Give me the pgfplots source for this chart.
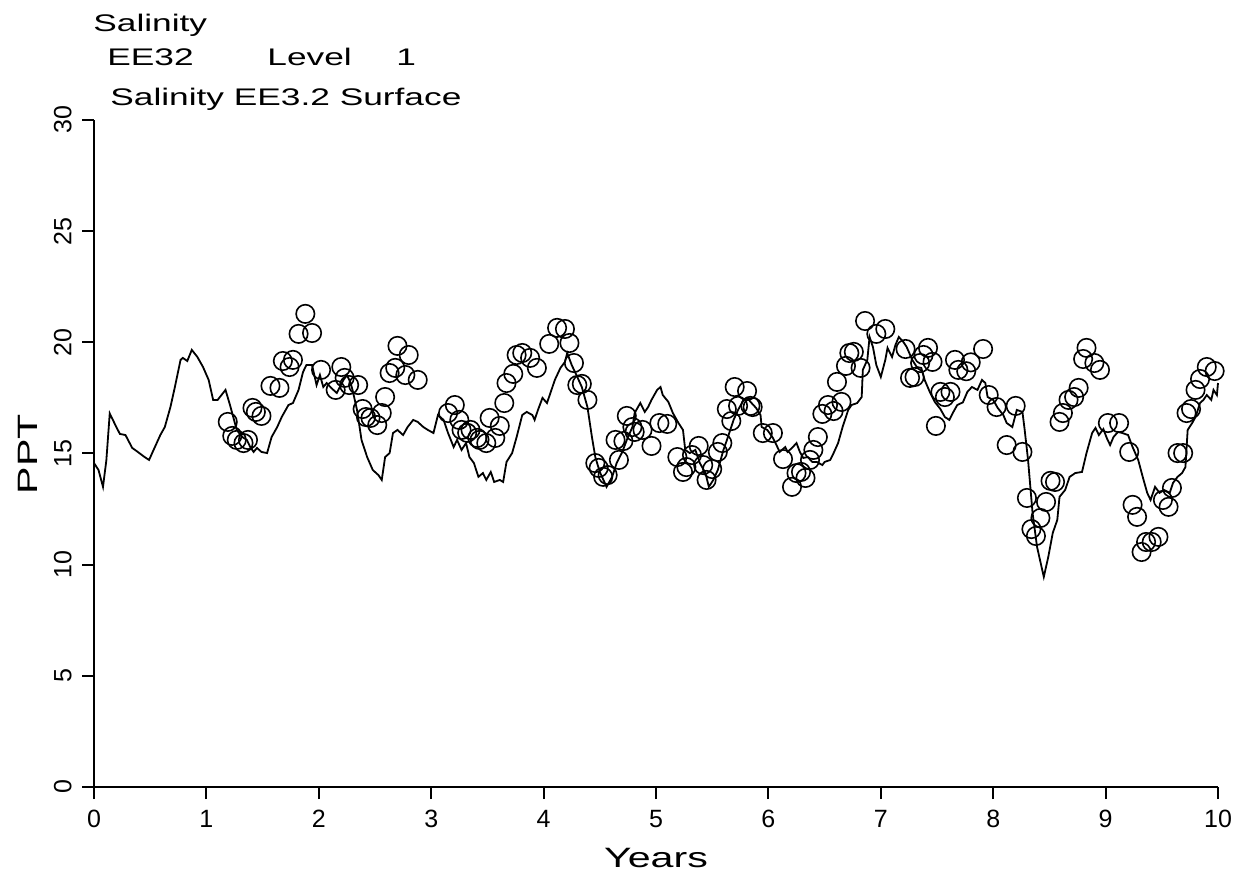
\documentclass[border=0pt]{standalone}
\usepackage{fontspec}
\setmainfont{Liberation Sans}
\newfontfamily\widefont{Liberation Sans}[FakeStretch=1.47]
\usepackage{pgfplots}
\pgfplotsset{compat=1.18}
\begin{document}
\begin{tikzpicture}
\path[use as bounding box] (0,0) rectangle (620.5pt,439pt);
\begin{axis}[
  at={(47pt,45.5pt)}, anchor=south west,
  scale only axis, width=562pt, height=333.5pt,
  xmin=0, xmax=10, ymin=0, ymax=30,
  axis x line*=bottom, axis y line*=left,
  axis line style={-, line width=1pt},
  xtick={0,1,...,10}, ytick={0,5,...,30},
  tick align=outside, major tick length=6pt,
  tick style={line width=1pt, black},
  /pgf/number format/assume math mode=true,
  tick label style={font=\fontsize{12.5}{14}\selectfont},
  xticklabel style={anchor=north, inner sep=0pt, yshift=-5.5pt},
  yticklabel style={rotate=90, anchor=south, inner sep=0pt, yshift=5pt},
  clip=false,
]
\addplot[black, line width=0.9pt, no markers] coordinates {
(0.00,14.57)(0.04,14.26)(0.08,13.5)(0.11,14.7)(0.14,16.8)(0.19,16.28)(0.23,15.88)(0.28,15.83)
(0.34,15.25)(0.39,15.07)(0.45,14.84)(0.49,14.71)(0.53,15.16)(0.59,15.83)(0.63,16.19)(0.68,17.09)
(0.72,18.0)(0.77,19.21)(0.79,19.3)(0.83,19.16)(0.87,19.66)(0.92,19.34)(0.97,18.89)(1.02,18.31)
(1.06,17.41)(1.10,17.41)(1.17,17.86)(1.21,17.18)(1.27,16.06)(1.32,15.74)(1.36,15.61)(1.39,15.29)
(1.42,15.07)(1.45,15.25)(1.49,15.07)(1.54,15.02)(1.58,15.74)(1.63,16.19)(1.67,16.64)(1.73,17.18)
(1.77,17.27)(1.82,17.86)(1.86,18.67)(1.89,18.98)(1.94,18.98)(1.98,18.08)(2.01,18.53)(2.04,17.99)
(2.07,18.17)(2.11,17.95)(2.16,17.72)(2.22,18.31)(2.25,18.53)(2.28,18.22)(2.30,17.86)(2.34,16.96)
(2.38,15.61)(2.43,14.84)(2.48,14.26)(2.53,14.03)(2.56,13.81)(2.59,14.84)(2.63,15.02)(2.66,15.92)
(2.70,16.06)(2.75,15.83)(2.79,16.19)(2.84,16.51)(2.88,16.42)(2.93,16.19)(2.97,16.06)(3.02,15.92)
(3.06,16.73)(3.11,16.51)(3.15,15.92)(3.20,15.29)(3.23,15.61)(3.27,15.16)(3.31,15.47)(3.34,14.84)
(3.38,14.57)(3.42,13.95)(3.46,14.12)(3.49,13.81)(3.53,14.17)(3.56,13.72)(3.61,13.81)(3.64,13.72)
(3.67,14.62)(3.72,15.02)(3.76,15.74)(3.81,16.73)(3.85,16.87)(3.90,16.73)(3.92,16.51)(3.95,16.96)
(3.99,17.5)(4.03,17.27)(4.07,17.86)(4.10,18.31)(4.15,18.85)(4.19,19.12)(4.21,19.52)(4.25,18.98)
(4.30,18.44)(4.34,17.99)(4.39,17.09)(4.43,15.74)(4.46,14.84)(4.50,14.17)(4.56,13.5)(4.61,13.95)
(4.65,14.57)(4.70,15.07)(4.74,15.61)(4.79,16.19)(4.81,16.82)(4.86,17.27)(4.90,16.87)(4.93,17.09)
(4.96,17.41)(5.01,17.86)(5.04,17.99)(5.06,17.63)(5.11,17.32)(5.15,16.82)(5.20,16.37)(5.24,16.06)
(5.26,15.16)(5.30,15.02)(5.35,15.16)(5.39,14.57)(5.44,14.12)(5.47,13.5)(5.51,13.81)(5.55,14.26)
(5.60,15.16)(5.64,15.74)(5.69,16.51)(5.73,16.96)(5.78,17.41)(5.81,17.5)(5.85,17.27)(5.89,17.05)
(5.93,16.73)(5.94,16.19)(5.99,16.06)(6.01,15.92)(6.04,15.7)(6.08,15.29)(6.10,15.07)(6.15,15.29)
(6.17,15.07)(6.21,15.25)(6.25,15.47)(6.28,15.07)(6.31,14.80)(6.35,14.84)(6.39,14.62)(6.43,14.62)
(6.48,14.48)(6.50,14.62)(6.55,14.71)(6.58,15.02)(6.62,15.47)(6.66,16.19)(6.71,16.96)(6.74,17.18)
(6.79,17.27)(6.83,17.54)(6.84,18.76)(6.88,19.21)(6.90,20.24)(6.93,19.79)(6.96,18.98)(7.00,18.44)
(7.04,19.21)(7.06,19.75)(7.10,19.34)(7.13,19.88)(7.16,20.24)(7.20,20.02)(7.23,19.79)(7.28,19.21)
(7.32,18.89)(7.36,18.85)(7.39,18.31)(7.44,17.72)(7.48,17.32)(7.53,17.0)(7.57,16.64)(7.61,16.51)
(7.64,16.82)(7.68,17.18)(7.73,17.3)(7.77,17.77)(7.81,17.99)(7.86,17.86)(7.90,18.31)(7.93,18.17)
(7.95,17.54)(8.00,17.41)(8.04,17.05)(8.09,16.73)(8.12,16.37)(8.17,16.19)(8.21,16.96)(8.26,16.87)
(8.28,16.06)(8.31,14.71)(8.35,12.33)(8.39,10.80)(8.43,9.90)(8.45,9.45)(8.49,10.35)(8.53,11.43)
(8.57,12.01)(8.59,13.05)(8.64,13.36)(8.68,13.95)(8.73,14.12)(8.79,14.17)(8.83,15.02)(8.88,15.92)
(8.91,16.15)(8.94,15.83)(8.98,16.10)(9.01,15.70)(9.04,15.38)(9.07,15.74)(9.11,15.97)(9.15,15.92)
(9.20,15.83)(9.24,15.29)(9.29,14.71)(9.33,13.95)(9.37,13.23)(9.40,12.91)(9.44,13.5)(9.48,13.23)
(9.52,13.36)(9.57,13.23)(9.60,13.68)(9.64,13.95)(9.68,14.12)(9.71,14.39)(9.73,16.06)(9.77,16.37)
(9.80,16.64)(9.84,17.27)(9.87,17.41)(9.90,17.63)(9.94,17.41)(9.96,17.86)(9.99,17.63)(10.0,18.17)
};
\addplot[black, only marks, mark=o, mark size=4.6pt, mark options={line width=0.8pt}] coordinates {
(1.19,16.42)(1.23,15.79)(1.27,15.61)(1.33,15.47)(1.37,15.61)(1.41,17.05)(1.44,16.87)(1.49,16.69)
(1.57,18.04)(1.65,17.95)(1.68,19.16)(1.74,18.89)(1.77,19.21)(1.82,20.38)(1.88,21.28)(1.94,20.42)
(2.02,18.76)(2.15,17.86)(2.20,18.89)(2.23,18.4)(2.27,18.08)(2.35,18.08)(2.39,17.0)(2.42,16.64)
(2.46,16.6)(2.52,16.28)(2.56,16.82)(2.59,17.54)(2.63,18.62)(2.68,18.85)(2.70,19.84)(2.77,18.53)
(2.80,19.43)(2.88,18.31)(3.15,16.82)(3.21,17.18)(3.25,16.51)(3.27,16.06)(3.32,15.93)(3.35,16.06)
(3.41,15.7)(3.43,15.61)(3.49,15.47)(3.52,16.6)(3.57,15.7)(3.61,16.24)(3.65,17.27)(3.67,18.17)
(3.73,18.58)(3.76,19.43)(3.81,19.52)(3.88,19.3)(3.94,18.85)(4.05,19.93)(4.12,20.65)(4.19,20.6)
(4.23,19.97)(4.27,19.07)(4.30,18.08)(4.34,18.13)(4.39,17.41)(4.46,14.57)(4.49,14.35)(4.53,13.95)
(4.57,14.03)(4.64,15.61)(4.67,14.71)(4.71,15.56)(4.74,16.69)(4.79,16.19)(4.81,15.97)(4.88,16.06)
(4.96,15.34)(5.03,16.37)(5.10,16.33)(5.19,14.84)(5.24,14.17)(5.27,14.39)(5.32,14.93)(5.38,15.34)
(5.42,14.48)(5.45,13.81)(5.50,14.3)(5.55,15.07)(5.59,15.47)(5.63,17.0)(5.67,16.46)(5.70,17.99)
(5.73,17.14)(5.81,17.81)(5.84,17.14)(5.86,17.09)(5.95,15.92)(6.04,15.92)(6.13,14.75)(6.21,13.5)
(6.25,14.12)(6.29,14.17)(6.33,13.9)(6.37,14.71)(6.40,15.16)(6.44,15.74)(6.48,16.78)(6.53,17.18)
(6.58,16.91)(6.61,18.22)(6.65,17.32)(6.69,18.94)(6.72,19.52)(6.76,19.57)(6.82,18.85)(6.86,20.96)
(6.96,20.38)(7.04,20.6)(7.22,19.7)(7.26,18.4)(7.30,18.44)(7.35,19.07)(7.38,19.43)(7.42,19.75)
(7.46,19.12)(7.49,16.24)(7.53,17.77)(7.57,17.54)(7.62,17.77)(7.66,19.21)(7.69,18.76)(7.76,18.7)
(7.80,19.1)(7.91,19.70)(7.96,17.63)(8.03,17.09)(8.12,15.38)(8.20,17.14)(8.26,15.07)(8.30,13.0)
(8.34,11.6)(8.38,11.29)(8.42,12.1)(8.47,12.82)(8.51,13.77)(8.55,13.72)(8.59,16.42)(8.62,16.82)
(8.67,17.41)(8.72,17.54)(8.76,17.95)(8.80,19.25)(8.83,19.75)(8.90,19.07)(8.95,18.76)(9.02,16.37)
(9.12,16.37)(9.21,15.07)(9.24,12.69)(9.28,12.15)(9.32,10.57)(9.36,11.02)(9.41,11.02)(9.47,11.25)
(9.51,12.91)(9.56,12.6)(9.59,13.45)(9.64,15.02)(9.69,15.02)(9.72,16.82)(9.76,17.0)(9.80,17.86)
(9.84,18.35)(9.90,18.89)(9.97,18.71)
};
\end{axis}
\begin{scope}[every node/.style={inner sep=0pt, font=\widefont\fontsize{12}{14}\selectfont}]
\node[anchor=base west] at (46.5pt,423pt) {Salinity};
\node[anchor=base west] at (53.5pt,406pt) {EE32};
\node[anchor=base west] at (133.5pt,406pt) {Level};
\node[anchor=base west] at (198pt,406pt) {1};
\node[anchor=base west] at (55pt,386pt) {Salinity EE3.2 Surface};
\node[anchor=base] at (328pt,5.5pt) {\fontsize{14}{16}\selectfont Years};
\node[anchor=base, rotate=90] at (18.5pt,212pt) {\fontsize{14}{16}\selectfont PPT};
\end{scope}
\end{tikzpicture}
\end{document}
